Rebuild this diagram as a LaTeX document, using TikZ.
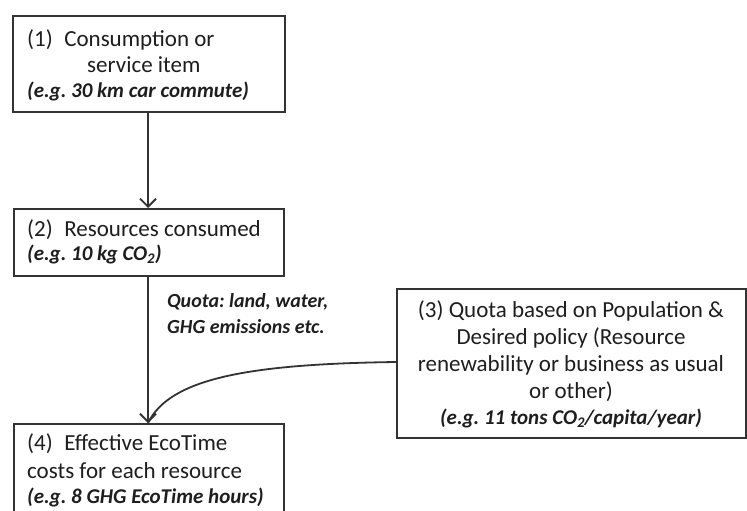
\documentclass[tikz,border=0pt]{standalone}
\usepackage{fontspec}
\setmainfont{Carlito}
\usetikzlibrary{arrows.meta}
\frenchspacing
\definecolor{ink}{HTML}{1e1e1e}
\definecolor{edge}{HTML}{333333}
\tikzset{
  boxframe/.style={draw=edge, line width=1.7pt, fill=white, inner sep=0pt, anchor=north west},
  txt/.style={text=ink, inner sep=0pt, font=\fontsize{23}{28}\selectfont},
  ltxt/.style={txt, anchor=west},
  ctxt/.style={txt, anchor=center},
  ex/.style={font=\fontsize{21}{25}\selectfont\bfseries\itshape},
  exq/.style={font=\fontsize{20}{25}\selectfont\bfseries\itshape},
  conn/.style={draw=edge, line width=1.8pt, -{Straight Barb[length=8pt,width=16pt,line width=1.8pt]}},
}
\begin{document}
\begin{tikzpicture}[x=1pt,y=-1pt]
\useasboundingbox (0,0) rectangle (747,511);
% boxes
\node[boxframe, line width=2.2pt, minimum width=272pt, minimum height=96pt] (b1) at (12,15) {};
\node[boxframe, minimum width=270pt, minimum height=67pt] (b2) at (13,208) {};
\node[boxframe, minimum width=349pt, minimum height=149pt] (b3) at (396,288) {};
\node[boxframe, minimum width=270pt, minimum height=120pt] (b4) at (13,423) {};
% box 1 text
\node[ltxt] (t1a) at (27,40) {(1)\enspace Consumption or};
\node[ltxt] (t1b) at (87,65) {service item};
\node[ltxt, ex] (t1c) at (27,91) {(e.g. 30 km car commute)};
% box 2 text
\node[ltxt] (t2a) at (27,230) {(2)\enspace Resources consumed};
\node[ltxt, ex] (t2b) at (27,254) {(e.g. 10 kg CO\textsubscript{2})};
% box 3 text
\node[ctxt] (t3a) at (571,311) {(3) Quota based on Population \&};
\node[ctxt] (t3b) at (571,338) {Desired policy (Resource};
\node[ctxt] (t3c) at (571,365) {renewability or business as usual};
\node[ctxt] (t3d) at (571,392) {or other)};
\node[ctxt, ex] (t3e) at (571,418) {(e.g. 11 tons CO\textsubscript{2}/capita/year)};
% box 4 text
\node[ltxt] (t4a) at (27,444) {(4)\enspace Effective EcoTime};
\node[ltxt] (t4b) at (27,471) {costs for each resource};
\node[ltxt, ex] (t4c) at (27,497) {(e.g. 8 GHG EcoTime hours)};
% quota label
\node[ltxt, exq] (q1) at (167,302) {Quota: land, water,};
\node[ltxt, exq] (q2) at (167,327) {GHG emissions etc.};
% connectors
\coordinate (b1s) at (b1.south -| 148,0);
\coordinate (b2n) at (b2.north -| 148,0);
\coordinate (b2s) at (b2.south -| 148,0);
\coordinate (b4n) at (b4.north -| 148,0);
\coordinate (b3w) at (b3.west |- 0,362);
\draw[conn] (b1s) -- (b2n);
\draw[conn] (b2s) -- (b4n);
\draw[draw=edge, line width=1.8pt] (b3w) .. controls (250,364) and (170,378) .. (b4n);
\end{tikzpicture}
\end{document}
